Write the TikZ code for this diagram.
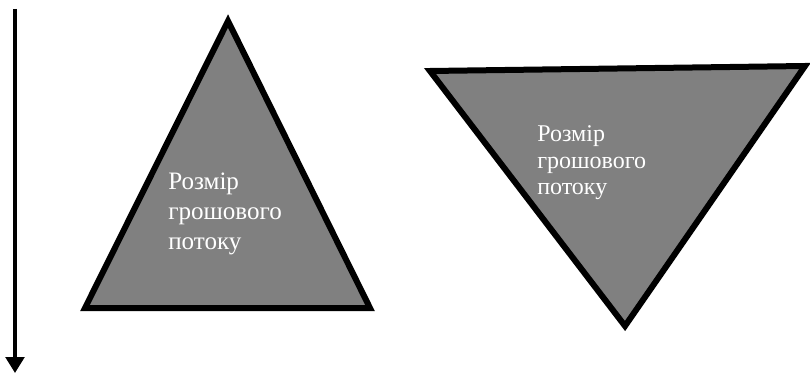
\documentclass[tikz,border=0pt]{standalone}
\usepackage{fontspec}
\setmainfont{Liberation Serif}
\usetikzlibrary{arrows.meta}

\tikzset{
  flow/.style = {draw=black, fill=gray, line width=4.5pt, line join=miter},
  flowtext/.style = {text=white, align=left, inner sep=0pt, anchor=base west},
}

\begin{document}
\begin{tikzpicture}[x=0.75pt, y=-0.75pt]
        \useasboundingbox (0,0) rectangle (810,374);
        % time axis
        \coordinate (T1) at (15,9);
        \coordinate (T2) at (15,373);
        \draw[line width=2.6pt, -{Triangle[width=14pt,length=12pt]}] (T1) -- (T2);
        % upward triangle
        \coordinate (A) at (228,21);
        \coordinate (B) at (370,308);
        \coordinate (C) at (85,308);
        \draw[flow] (A) -- (B) -- (C) -- cycle;
        \node[flowtext, font=\fontsize{18.8}{22.5}\selectfont] (L) at (168,249) {Розмір\\грошового\\потоку};
        % downward triangle
        \coordinate (D) at (430,71);
        \coordinate (E) at (805,66);
        \coordinate (F) at (625,326);
        \draw[flow] (D) -- (E) -- (F) -- cycle;
        \node[flowtext, font=\fontsize{18}{20}\selectfont] (R) at (537,195) {Розмір\\грошового\\потоку};
      \end{tikzpicture}
\end{document}
